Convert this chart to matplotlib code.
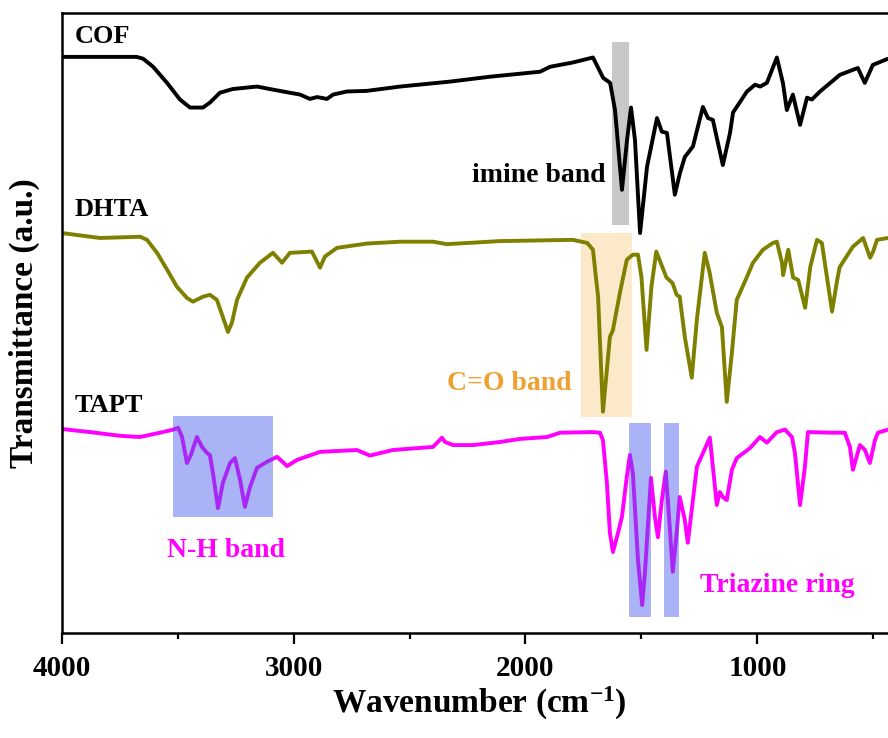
import numpy as np
import matplotlib
matplotlib.use("Agg")
import matplotlib.pyplot as plt
from matplotlib.patches import Rectangle

plt.rcParams['font.family'] = ['Liberation Serif', 'DejaVu Serif']
plt.rcParams['font.weight'] = 'bold'
plt.rcParams['mathtext.fontset'] = 'custom'
plt.rcParams['mathtext.rm'] = 'Liberation Serif:bold'
plt.rcParams['mathtext.bf'] = 'Liberation Serif:bold'
plt.rcParams['mathtext.it'] = 'Liberation Serif:bold:italic'

# FTIR spectra (wavenumber in cm-1, transmittance in a.u., curves already offset)
cof_w = [4000, 3677, 3649, 3606, 3546, 3490, 3447, 3391, 3361, 3318, 3262, 3158, 3089,
         3016, 2972, 2930, 2899, 2856, 2830, 2770, 2684, 2541, 2325, 2151, 1937, 1894,
         1795, 1709, 1665, 1635, 1614, 1584, 1562, 1545, 1528, 1506, 1476, 1433, 1412,
         1390, 1356, 1334, 1313, 1278, 1235, 1213, 1192, 1149, 1118, 1105, 1045, 1010,
         988, 959, 916, 890, 873, 847, 816, 786, 765, 730, 644, 567, 537, 502, 437]
cof_t = [92.7, 92.7, 92.4, 91.1, 88.5, 85.8, 84.5, 84.5, 85.3, 86.9, 87.5, 87.9, 87.4,
         86.9, 86.6, 85.9, 86.2, 85.9, 86.6, 87.1, 87.2, 87.9, 88.7, 89.5, 90.3, 91.1,
         91.8, 92.6, 89.3, 88.5, 84.1, 71.2, 79.3, 84.5, 79.3, 64.2, 74.9, 82.8, 80.6,
         80.4, 70.4, 73.9, 76.5, 78.2, 84.6, 82.8, 82.5, 75.2, 80.4, 83.7, 87.1, 88.2,
         87.9, 88.5, 92.6, 88.5, 84.1, 86.6, 81.7, 86.1, 85.8, 87.1, 89.8, 90.9, 88.5,
         91.4, 92.4]

dhta_w = [3999, 3835, 3662, 3632, 3589, 3546, 3503, 3460, 3434, 3391, 3361, 3331, 3305,
          3283, 3266, 3244, 3201, 3145, 3089, 3050, 3016, 2921, 2886, 2865, 2813, 2684,
          2541, 2399, 2339, 2110, 1795, 1734, 1709, 1700, 1687, 1666, 1649, 1636, 1623,
          1593, 1563, 1537, 1515, 1500, 1478, 1457, 1436, 1392, 1366, 1348, 1335, 1313,
          1283, 1261, 1227, 1206, 1175, 1153, 1132, 1110, 1089, 1045, 1019, 976, 933,
          916, 894, 889, 867, 846, 824, 794, 772, 743, 722, 678, 656, 645, 588, 544, 514,
          501, 484, 437]
dhta_t = [64.2, 63.4, 63.6, 63.1, 61.0, 58.3, 55.5, 53.7, 53.1, 53.9, 54.2, 53.4, 50.6,
          48.2, 49.7, 53.4, 57.0, 59.4, 61.0, 59.4, 61.0, 61.2, 58.6, 60.4, 61.8, 62.5,
          62.8, 62.8, 62.4, 62.9, 63.1, 62.6, 61.5, 58.3, 53.9, 35.3, 42.1, 47.4, 48.5,
          54.5, 59.9, 60.7, 60.7, 57.1, 45.3, 55.5, 61.2, 57.0, 56.1, 54.2, 53.9, 47.4,
          40.8, 50.2, 61.0, 57.8, 51.3, 49.0, 36.9, 44.8, 53.4, 57.1, 59.4, 61.5, 62.6,
          62.8, 59.4, 57.4, 61.5, 57.0, 56.6, 52.1, 58.7, 63.1, 62.6, 51.5, 56.6, 58.7,
          62.0, 63.4, 60.2, 61.2, 63.1, 63.4]

tapt_w = [3999, 3878, 3749, 3663, 3576, 3519, 3498, 3481, 3460, 3443, 3417, 3395, 3373,
          3361, 3348, 3326, 3305, 3274, 3253, 3231, 3210, 3188, 3158, 3115, 3071, 3028,
          2985, 2886, 2727, 2671, 2572, 2399, 2360, 2347, 2312, 2226, 2109, 2023, 1907,
          1851, 1709, 1679, 1666, 1649, 1636, 1623, 1601, 1584, 1563, 1550, 1537, 1515,
          1497, 1485, 1459, 1442, 1429, 1412, 1395, 1378, 1365, 1348, 1335, 1313, 1300,
          1278, 1261, 1235, 1205, 1192, 1175, 1162, 1149, 1132, 1110, 1089, 1032, 989,
          959, 916, 881, 851, 838, 816, 795, 782, 674, 623, 601, 588, 558, 536, 515, 493,
          480, 437]
tapt_t = [32.5, 32.0, 31.4, 31.2, 31.9, 32.4, 32.7, 31.2, 27.0, 28.3, 31.2, 29.6, 28.6,
          28.3, 25.4, 19.7, 23.8, 27.0, 27.8, 24.3, 19.9, 23.1, 26.2, 27.2, 28.0, 26.5,
          27.5, 28.8, 29.1, 28.2, 29.1, 29.6, 31.1, 30.4, 29.9, 29.9, 30.4, 30.9, 31.2,
          31.9, 32.0, 31.9, 30.7, 23.8, 15.7, 12.6, 15.7, 18.3, 24.8, 28.3, 25.4, 11.3,
          4.0, 9.2, 24.6, 18.3, 15.0, 21.0, 25.6, 16.7, 9.4, 15.7, 21.5, 17.8, 14.1,
          21.0, 26.4, 28.6, 31.1, 26.4, 20.2, 22.3, 21.5, 21.0, 25.9, 27.8, 29.4, 31.2,
          30.3, 32.0, 32.4, 31.2, 28.6, 20.2, 26.4, 32.0, 31.9, 31.9, 29.6, 25.9, 29.9,
          29.1, 27.0, 30.7, 31.9, 32.4]

# highlighted bands: (w_high, w_low, t_bottom, t_top)
imine_box = (1625, 1552, 65.5, 95.1)
co_box = (1759, 1539, 34.5, 64.2)
nh_box = (3522, 3091, 18.3, 34.6)
triazine_boxes = [(1552, 1457, 2.1, 33.5), (1401, 1336, 2.1, 33.5)]

fig = plt.figure(figsize=(8.88, 7.38), dpi=100)
ax = fig.add_axes([0.0695, 0.1423, 0.9401, 0.8401])

def band(box, **kw):
    w1, w2, t1, t2 = box
    ax.add_patch(Rectangle((w2, t1), w1 - w2, t2 - t1, linewidth=0, **kw))

band(imine_box, facecolor='#c8c8c8', zorder=1)
band(co_box, facecolor='#fbe9c9', zorder=1)

line_kw = dict(lw=2.8, zorder=2, solid_joinstyle='round', solid_capstyle='round')
ax.plot(cof_w, cof_t, color='black', **line_kw)
ax.plot(dhta_w, dhta_t, color='#808000', **line_kw)
ax.plot(tapt_w, tapt_t, color='#ff00ff', **line_kw)

blue = (66/255, 88/255, 233/255, 0.45)
band(nh_box, facecolor=blue, zorder=3)
for b in triazine_boxes:
    band(b, facecolor=blue, zorder=3)

ax.text(3944, 95.0, 'COF', fontsize=19, fontweight='bold', va='baseline')
ax.text(3944, 67.0, 'DHTA', fontsize=19, fontweight='bold', va='baseline')
ax.text(3944, 35.3, 'TAPT', fontsize=19, fontweight='bold', va='baseline')
ax.text(1653, 72.5, 'imine band', fontsize=20, fontweight='bold', ha='right', va='baseline')
ax.text(2337, 38.8, 'C=O band', fontsize=20, fontweight='bold', color='#f0a030', va='baseline')
ax.text(3546, 11.8, 'N-H band', fontsize=20, fontweight='bold', color='#ff00ff', va='baseline')
ax.text(1248, 6.1, 'Triazine ring', fontsize=20, fontweight='bold', color='#ff00ff', va='baseline')

ax.set_xlim(4000, 400)
ax.set_ylim(-0.5, 99.8)
ax.set_xticks([4000, 3000, 2000, 1000])
ax.set_xticks([3500, 2500, 1500, 500], minor=True)
ax.set_yticks([])
ax.tick_params(axis='x', which='major', direction='out', length=8, width=1.6, labelsize=21, pad=8)
ax.tick_params(axis='x', which='minor', direction='out', length=4.5, width=1.6)
for s in ax.spines.values():
    s.set_linewidth(1.8)

ax.set_xlabel('Wavenumber (cm$^{-1}$)', fontsize=24, fontweight='bold', labelpad=2)
ax.set_ylabel('Transmittance (a.u.)', fontsize=24, fontweight='bold', labelpad=15.5)

fig.savefig('out.png', dpi=100)
